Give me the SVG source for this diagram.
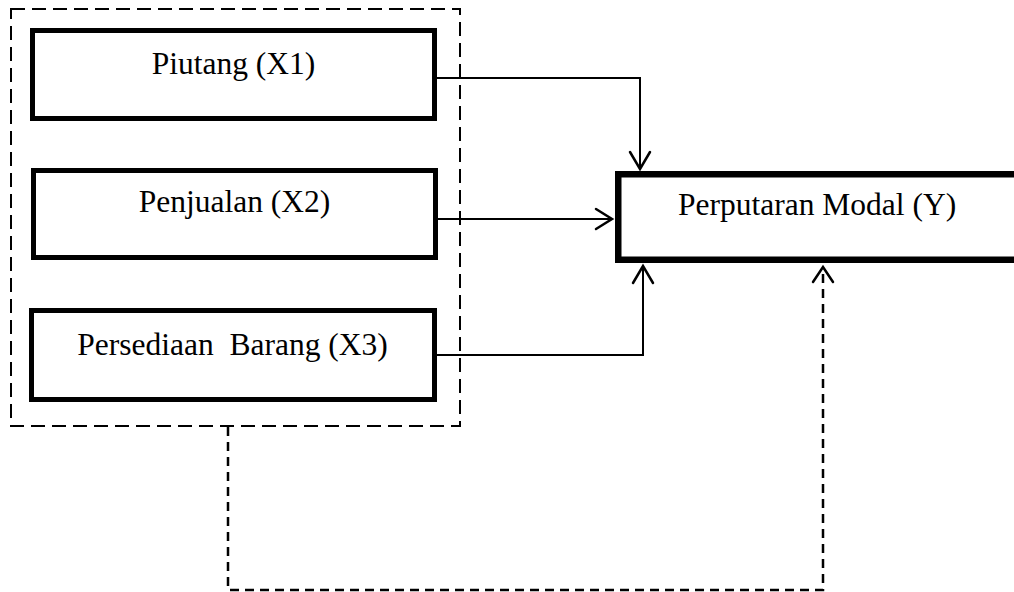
<svg xmlns="http://www.w3.org/2000/svg" width="1014" height="592" viewBox="0 0 1014 592">
<style>
  .box { fill: #ffffff; stroke: #000000; stroke-width: 5; }
  .ybox { fill: #ffffff; stroke: #000000; stroke-width: 6.5; }
  .group { fill: none; stroke: #000000; stroke-width: 2; stroke-dasharray: 14 7; }
  .label { font-family: "Liberation Serif", "Times New Roman", serif; font-size: 31.5px; fill: #000000; }
  .conn { fill: none; stroke: #000000; stroke-width: 2; }
  .dconn { fill: none; stroke: #000000; stroke-width: 2.5; stroke-dasharray: 9 6; }
  .head { fill: none; stroke: #000000; stroke-width: 2.5; stroke-linecap: round; stroke-linejoin: miter; }
</style>
<rect width="1014" height="592" fill="#ffffff"/>
<rect id="group-x" class="group" x="11" y="9" width="449" height="417"/>
<g id="connectors">
  <polyline class="conn" points="437,78 640,78 640,169"/>
  <polyline class="head" points="630,152 640,169 650,152"/>
  <polyline class="conn" points="438,219 612,219"/>
  <polyline class="head" points="596,209 612,219 596,229"/>
  <polyline class="conn" points="437,355 643,355 643,266"/>
  <polyline class="head" points="633,283 643,266 653,283"/>
  <polyline class="dconn" points="228,427 228,590 823,590 823,268"/>
  <polyline class="head" points="813,282 823,267 833,282"/>
</g>
<g id="node-x1">
  <rect class="box" x="32.5" y="30.5" width="402" height="88"/>
  <text class="label" x="233.5" y="74" text-anchor="middle">Piutang (X1)</text>
</g>
<g id="node-x2">
  <rect class="box" x="33.5" y="170.5" width="402" height="87"/>
  <text class="label" x="234.5" y="212" text-anchor="middle">Penjualan (X2)</text>
</g>
<g id="node-x3">
  <rect class="box" x="31.5" y="310.5" width="403" height="89"/>
  <text class="label" x="232.5" y="355" text-anchor="middle" xml:space="preserve">Persediaan  Barang (X3)</text>
</g>
<g id="node-y">
  <rect class="ybox" x="618.25" y="174.25" width="410" height="85.5"/>
  <text class="label" x="678" y="215">Perputaran Modal (Y)</text>
</g>
</svg>
